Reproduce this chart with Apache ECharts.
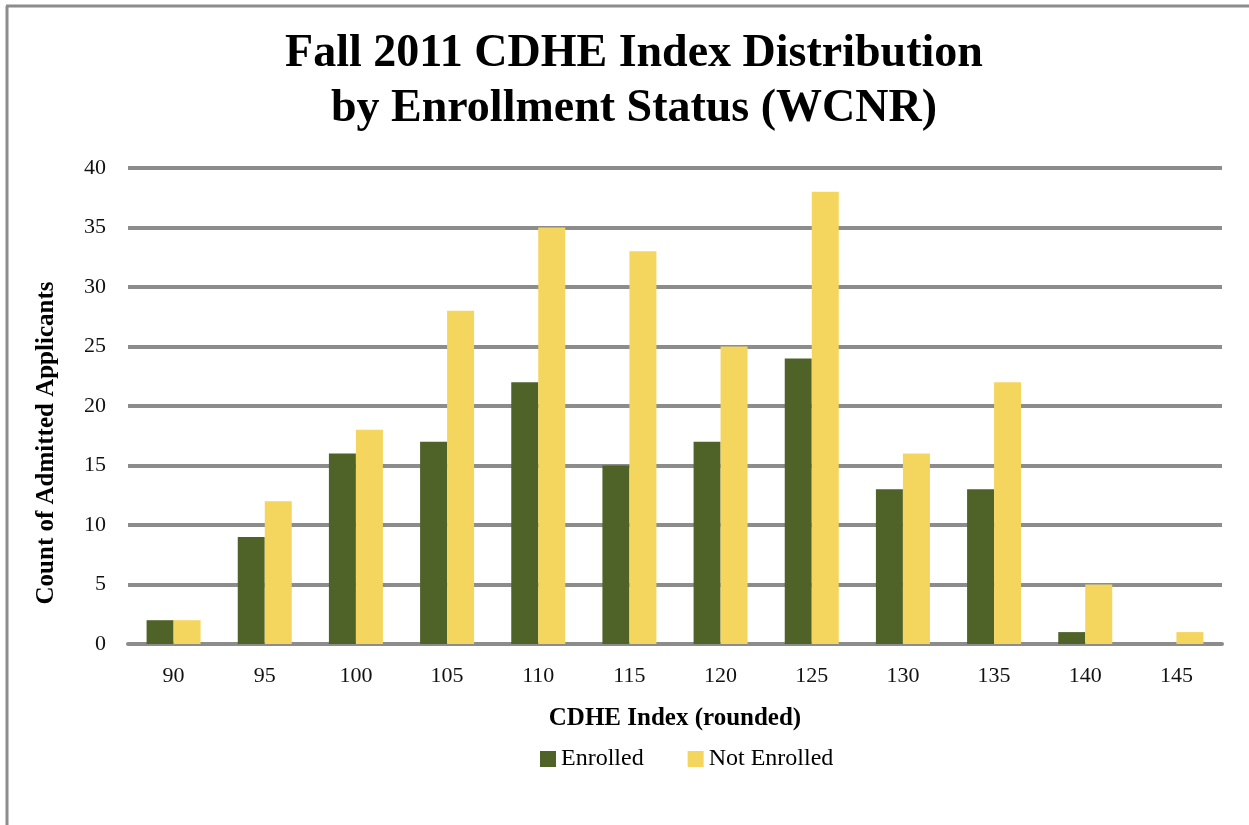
<!DOCTYPE html>
<html>
<head>
<meta charset="utf-8">
<script src="https://cdn.jsdelivr.net/npm/echarts@6/dist/echarts.min.js"></script>
<style>
  html, body { margin: 0; padding: 0; background: #fff; }
  #main { width: 1249px; height: 825px; }
</style>
</head>
<body>
<div id="main"></div>
<script>
// CDHE index buckets and counts
const categories = ['90', '95', '100', '105', '110', '115', '120', '125', '130', '135', '140', '145']
const enrolled = [2, 9, 16, 17, 22, 15, 17, 24, 13, 13, 1, 0]
const notEnrolled = [2, 12, 18, 28, 35, 33, 25, 38, 16, 22, 5, 1]

const serif = '"Liberation Serif", "DejaVu Serif", serif'
const gridGray = '#8c8c8c'

var myChart = echarts.init(document.getElementById('main'))

myChart.setOption({
  backgroundColor: '#fff',
  animation: false,
  textStyle: { fontFamily: serif },
  title: {
    text: 'Fall 2011 CDHE Index Distribution\nby Enrollment Status (WCNR)',
    left: 629,
    top: 22,
    textAlign: 'center',
    textStyle: {
      fontFamily: serif,
      fontSize: 46,
      fontWeight: 'bold',
      color: '#000',
      lineHeight: 55
    }
  },
  legend: {
    data: ['Enrolled', 'Not Enrolled'],
    left: 535,
    top: 742,
    itemWidth: 16,
    itemHeight: 16,
    itemGap: 44,
    icon: 'rect',
    textStyle: { fontFamily: serif, fontSize: 24, color: '#000' }
  },
  grid: {
    left: 128,
    right: 27,
    top: 168,
    bottom: 181,
    containLabel: false
  },
  xAxis: {
    type: 'category',
    data: categories,
    name: 'CDHE Index (rounded)',
    nameLocation: 'middle',
    nameGap: 62,
    nameTextStyle: { fontFamily: serif, fontSize: 25, fontWeight: 'bold', color: '#000' },
    axisLine: { show: true, lineStyle: { color: gridGray, width: 4 } },
    axisTick: { show: false },
    axisLabel: { fontFamily: serif, fontSize: 22, color: '#111', margin: 21 }
  },
  yAxis: {
    type: 'value',
    min: 0,
    max: 40,
    interval: 5,
    axisLine: { show: false },
    axisTick: { show: false },
    axisLabel: { fontFamily: serif, fontSize: 22, color: '#111', margin: 22 },
    splitLine: { show: true, lineStyle: { color: gridGray, width: 4 } }
  },
  graphic: [
    {
      type: 'text',
      x: 47,
      y: 443,
      rotation: Math.PI / 2,
      style: {
        text: 'Count of Admitted Applicants',
        fontFamily: serif,
        fontSize: 25,
        fontWeight: 'bold',
        fill: '#000',
        textAlign: 'center',
        textVerticalAlign: 'middle'
      }
    },
    {
      type: 'line',
      shape: { x1: 7, y1: 6, x2: 7, y2: 825 },
      style: { stroke: gridGray, lineWidth: 3 }
    },
    {
      type: 'line',
      shape: { x1: 6, y1: 6, x2: 1249, y2: 6 },
      style: { stroke: gridGray, lineWidth: 3 }
    }
  ],
  series: [
    {
      name: 'Enrolled',
      type: 'bar',
      data: enrolled,
      barWidth: 27,
      barGap: '0%',
      itemStyle: { color: '#4f6228' }
    },
    {
      name: 'Not Enrolled',
      type: 'bar',
      data: notEnrolled,
      barWidth: 27,
      barGap: '0%',
      itemStyle: { color: '#f4d55e' }
    }
  ]
})
</script>
</body>
</html>
